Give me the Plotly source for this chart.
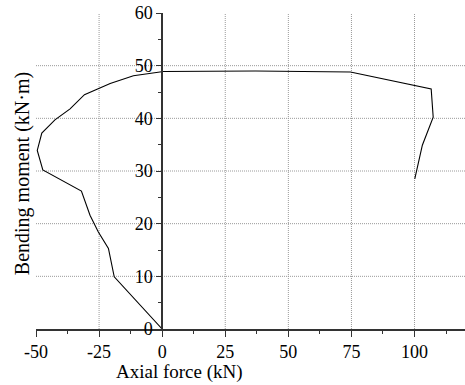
import plotly.graph_objects as go

axial_force = [0, -19.0, -21.3, -25.3, -28.6, -32.0, -47.3, -49.5, -47.7, -42.5,
               -36.5, -30.8, -20.6, -11.4, 0.5, 37.0, 74.6, 106.6, 107.4, 103.1, 100.1]
bending_moment = [0, 9.9, 15.3, 18.4, 21.6, 26.2, 30.2, 33.9, 37.2, 39.7,
                  41.8, 44.5, 46.6, 48.1, 48.9, 49.0, 48.8, 45.6, 40.2, 34.9, 28.5]

x_range = [-50, 120]
y_range = [0, 60]
x_tickvals = [-50, -25, 0, 25, 50, 75, 100]
x_ticktext = ["-50", "-25", "0", "25", "50", "75", "100"]
y_tickvals = [0, 10, 20, 30, 40, 50, 60]
y_ticktext = ["0", "10", "20", "30", "40", "50", "60"]
grid_x = [-25, 25, 50, 75, 100]
grid_y = [10, 20, 30, 40, 50]

FONT = "Liberation Serif"
AXIS_COLOR = "#333333"
GRID_COLOR = "#9a9a9a"
GRID_DASH = "1px,1px"

fig = go.Figure()
fig.add_trace(go.Scatter(
    x=axial_force, y=bending_moment, mode="lines",
    line=dict(color="black", width=1.1), showlegend=False,
))

shapes = []
for gx in grid_x:
    shapes.append(dict(type="line", xref="x", yref="y", x0=gx, x1=gx,
                       y0=y_range[0], y1=y_range[1], layer="below",
                       line=dict(color=GRID_COLOR, width=1, dash=GRID_DASH)))
for gy in grid_y:
    shapes.append(dict(type="line", xref="x", yref="y", x0=x_range[0], x1=x_range[1],
                       y0=gy, y1=gy, layer="below",
                       line=dict(color=GRID_COLOR, width=1, dash=GRID_DASH)))

fig.update_layout(
    width=465, height=385,
    margin=dict(l=36, r=0, t=13, b=56),
    paper_bgcolor="white", plot_bgcolor="white",
    font=dict(family=FONT, size=18, color="black"),
    shapes=shapes,
    xaxis=dict(
        range=x_range, tickmode="array", tickvals=x_tickvals, ticktext=x_ticktext,
        showline=True, linecolor=AXIS_COLOR, linewidth=1.5,
        ticks="outside", ticklen=6, tickwidth=1, tickcolor=AXIS_COLOR,
        minor=dict(dtick=12.5, tick0=-50, ticks="outside", ticklen=3,
                   tickcolor=AXIS_COLOR, showgrid=False),
        showgrid=False, zeroline=False, tickfont=dict(family=FONT, size=18),
    ),
    yaxis=dict(
        range=y_range, tickmode="array", tickvals=y_tickvals, ticktext=y_ticktext,
        anchor="free",
        position=(0 - x_range[0]) / (x_range[1] - x_range[0]),
        showline=True, linecolor=AXIS_COLOR, linewidth=1.5,
        ticks="outside", ticklen=5, tickwidth=1, tickcolor=AXIS_COLOR,
        minor=dict(dtick=5, tick0=0, ticks="outside", ticklen=3,
                   tickcolor=AXIS_COLOR, showgrid=False),
        showgrid=False, zeroline=False, tickfont=dict(family=FONT, size=18),
    ),
    annotations=[
        dict(text="Axial force (kN)", xref="paper", yref="paper",
             x=(179 - 36) / 429, y=-0.135, xanchor="center", yanchor="middle",
             showarrow=False, font=dict(family=FONT, size=19)),
        dict(text="Bending moment (kN·m)", xref="paper", yref="paper",
             x=(22 - 36) / 429, y=0.49, xanchor="center", yanchor="middle",
             textangle=-90, showarrow=False, font=dict(family=FONT, size=20)),
    ],
)

fig.write_html("out.html")
